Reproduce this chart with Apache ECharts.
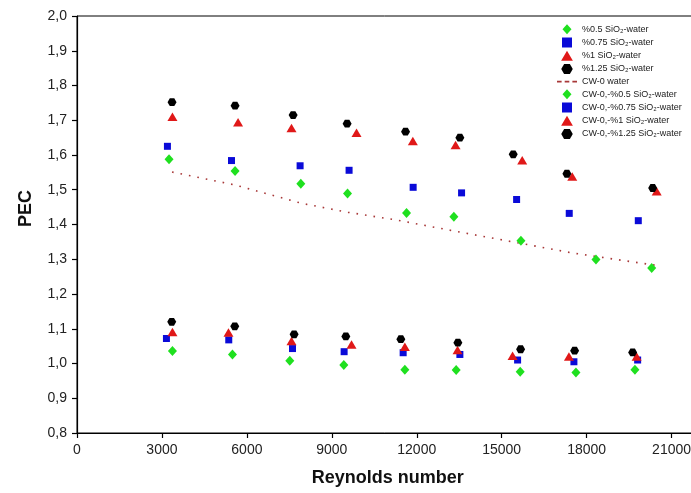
<!DOCTYPE html>
<html><head><meta charset="utf-8">
<script src="https://cdn.jsdelivr.net/npm/echarts@6/dist/echarts.min.js"></script>
<style>html,body{margin:0;padding:0;background:#fff}#c{width:691px;height:493px}</style>
</head><body><div id="c"></div>
<script>
// ---- data (Reynolds number, PEC) ----
const names = ['%0.5 SiO₂-water','%0.75 SiO₂-water','%1 SiO₂-water','%1.25 SiO₂-water','CW-0 water',
  'CW-0,-%0.5 SiO₂-water','CW-0,-%0.75 SiO₂-water','CW-0,-%1 SiO₂-water','CW-0,-%1.25 SiO₂-water'];

const re05 = [3251,5583,7905,9555,11640,13311,15679,18330,20298];
const pec05 = [1.588,1.554,1.517,1.489,1.433,1.422,1.353,1.299,1.275];
const re075 = [3194,5456,7880,9610,11873,13583,15527,17386,19825];
const pec075 = [1.625,1.584,1.569,1.556,1.507,1.491,1.472,1.432,1.411];
const re1 = [3371,5689,7576,9873,11862,13371,15725,17492,20475];
const pec1 = [1.710,1.694,1.678,1.664,1.640,1.629,1.585,1.538,1.496];
const re125 = [3357,5583,7633,9540,11604,13523,15407,17304,20333];
const pec125 = [1.752,1.742,1.715,1.690,1.667,1.650,1.602,1.546,1.505];

const reWater = [3357,5572,7929,9576,11286,13400,15527,17500,20413];
const pecWater = [1.551,1.514,1.461,1.435,1.413,1.380,1.348,1.318,1.283];

const reCw05 = [3371,5491,7516,9424,11580,13392,15654,17622,19706];
const pecCw05 = [1.036,1.026,1.008,0.996,0.982,0.981,0.976,0.974,0.982];
const reCw075 = [3159,5360,7611,9435,11520,13523,15562,17551,19802];
const pecCw075 = [1.072,1.068,1.043,1.034,1.031,1.026,1.010,1.005,1.010];
const reCw1 = [3371,5350,7576,9696,11580,13441,15385,17375,19767];
const pecCw1 = [1.091,1.089,1.065,1.055,1.048,1.039,1.022,1.020,1.020];
const reCw125 = [3346,5572,7668,9495,11438,13452,15668,17576,19625];
const pecCw125 = [1.120,1.107,1.084,1.078,1.070,1.060,1.041,1.037,1.032];

const xMin = 0, xMax = 24000, xStep = 3000;
const yMin = 0.8, yMax = 2.0, yStep = 0.1;

// ---- styles ----
const FONT = '"Liberation Sans", Arial, sans-serif';
const HEX = 'path://M-1,0 L-0.5,-0.866 L0.5,-0.866 L1,0 L0.5,0.866 L-0.5,0.866Z';
const DIAMOND = 'path://M0,-1 L0.9,0 L0,1 L-0.9,0Z';
const SQUARE = 'path://M0,0 L1,0 L1,1 L0,1Z';
const TRIANGLE = 'path://M0,-0.85 L1,0.85 L-1,0.85Z';
const DASHES = 'path://M0,0h4.5v1.6h-4.5z M7.5,0h4.5v1.6h-4.5z M15,0h4.5v1.6h-4.5z';
const GREEN = '#1fe01f', BLUE = '#0a0ad8', RED = '#e01818', BLACK = '#000000', LINE = '#a83838';

function pairs(xs, ys){ return xs.map((x,i)=>[x, ys[i]]); }
function sc(name, xs, ys, symbol, size, color){
  return { name, type:'scatter', data: pairs(xs,ys), symbol, symbolSize:size, symbolKeepAspect:true,
    itemStyle:{color, opacity:1}, z:2 };
}

const series = [
  sc(names[0], re05, pec05, DIAMOND, 10, GREEN),
  sc(names[1], re075, pec075, SQUARE, 7, BLUE),
  sc(names[2], re1, pec1, TRIANGLE, 10, RED),
  sc(names[3], re125, pec125, HEX, 9, BLACK),
  { name:names[4], type:'line', data: pairs(reWater, pecWater), symbol:'none', smooth:false,
    lineStyle:{color:LINE, width:1.6, type:[1.6,7]}, itemStyle:{color:LINE}, z:1 },
  sc(names[5], reCw05, pecCw05, DIAMOND, 10, GREEN),
  sc(names[6], reCw075, pecCw075, SQUARE, 7, BLUE),
  sc(names[7], reCw1, pecCw1, TRIANGLE, 10, RED),
  sc(names[8], reCw125, pecCw125, HEX, 9, BLACK)
];

const legendData = names.map((n, i) => i === 4 ? {name:n, icon:DASHES, itemStyle:{color:LINE}} : {name:n});

const chart = echarts.init(document.getElementById('c'));
chart.setOption({
  animation:false,
  backgroundColor:'#fff',
  textStyle:{fontFamily:FONT},
  grid:{left:77, right:-65.5, top:16, bottom:60, outerBoundsMode:'none', containLabel:false,
    show:true, borderColor:'#000', borderWidth:1, backgroundColor:'transparent'},
  legend:{
    orient:'vertical', left:552, top:19.3, itemWidth:20, itemHeight:10, itemGap:3.2,
    textStyle:{fontFamily:FONT, fontSize:9, color:'#222'},
    data: legendData
  },
  xAxis:{
    type:'value', min:xMin, max:xMax, interval:xStep,
    name:'Reynolds number', nameLocation:'middle', nameGap:36,
    nameTextStyle:{fontFamily:FONT, fontSize:18, fontWeight:'bold', color:'#111', padding:[0,58,0,0]},
    axisLine:{show:true, onZero:false, lineStyle:{color:'#000', width:1.2}},
    axisTick:{show:true, inside:false, length:5, lineStyle:{color:'#000', width:1.2}},
    axisLabel:{fontFamily:FONT, fontSize:14, color:'#222', margin:10, formatter: v => String(Math.round(v))},
    splitLine:{show:false}
  },
  yAxis:{
    type:'value', min:yMin, max:yMax, interval:yStep,
    name:'PEC', nameLocation:'middle', nameGap:42, nameRotate:90,
    nameTextStyle:{fontFamily:FONT, fontSize:18, fontWeight:'bold', color:'#111', padding:[0,0,0,32]},
    axisLine:{show:true, onZero:false, lineStyle:{color:'#000', width:1.2}},
    axisTick:{show:true, inside:false, length:5, lineStyle:{color:'#000', width:1.2}},
    axisLabel:{fontFamily:FONT, fontSize:14, color:'#222', margin:10,
      formatter: v => v.toFixed(1).replace('.', ',')},
    splitLine:{show:false}
  },
  series
});
</script></body></html>
